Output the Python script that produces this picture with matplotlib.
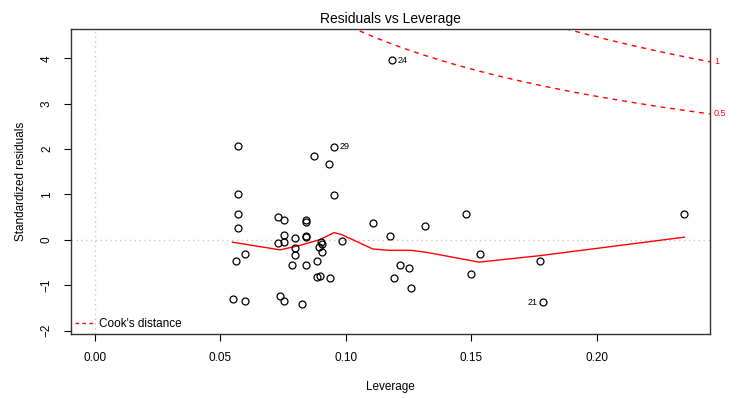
import numpy as np
import matplotlib
matplotlib.use("Agg")
import matplotlib.pyplot as plt

plt.rcParams["font.family"] = ["Liberation Sans", "DejaVu Sans"]

# leverage / standardized residuals
leverage = [0.1184, 0.0569, 0.0953, 0.0871, 0.0933, 0.0569, 0.0953, 0.0569, 0.0729, 0.0753,
            0.0840, 0.0840, 0.1110, 0.1479, 0.1317, 0.2350, 0.0569, 0.0753, 0.0840, 0.0840,
            0.0797, 0.1176, 0.0729, 0.0753, 0.0986, 0.0902, 0.0905, 0.0893, 0.0797, 0.0905,
            0.0598, 0.1533, 0.0797, 0.0560, 0.0886, 0.1774, 0.0786, 0.0840, 0.1216, 0.1252,
            0.0886, 0.0898, 0.0938, 0.1190, 0.1500, 0.1260, 0.0548, 0.0598, 0.0738, 0.0753,
            0.0824, 0.1788]
std_resid = [3.96, 2.07, 2.05, 1.85, 1.68, 1.01, 0.985, 0.58, 0.515, 0.434,
             0.434, 0.40, 0.38, 0.56, 0.316, 0.56, 0.265, 0.11, 0.096, 0.066,
             0.05, 0.08, -0.074, -0.037, -0.022, -0.05, -0.09, -0.154, -0.17, -0.265,
             -0.30, -0.316, -0.34, -0.47, -0.463, -0.463, -0.56, -0.56, -0.56, -0.62,
             -0.81, -0.794, -0.846, -0.83, -0.757, -1.05, -1.30, -1.35, -1.24, -1.35,
             -1.42, -1.37]

# smoother (red line)
smooth_x = [0.0548, 0.0738, 0.0819, 0.0897, 0.0953, 0.0983, 0.1107, 0.1172, 0.1259,
            0.1328, 0.1531, 0.1776, 0.2350]
smooth_y = [-0.051, -0.22, -0.118, 0.007, 0.16, 0.118, -0.20, -0.23, -0.23,
            -0.28, -0.49, -0.346, 0.06]

# labelled observations: (id, index into arrays, side)
labelled = [("24", 0, "right"), ("29", 2, "right"), ("21", 51, "left")]

# Cook's distance contours
cook_levels = [0.5, 1.0]
n_params = 5

XLIM = (-0.0096, 0.2452)
YLIM = (-2.073, 4.645)
RED = "#FF0000"

fig = plt.figure(figsize=(7.4, 3.98), dpi=100)
ax = fig.add_axes([71 / 740, 1 - 334 / 398, 639 / 740, 305 / 398])

ax.axhline(0, color="#C8C8C8", ls=(0, (1, 2.5)), lw=1, zorder=1)
ax.axvline(0, color="#C8C8C8", ls=(0, (1, 2.5)), lw=1, zorder=1)

ax.plot(leverage, std_resid, "o", mfc="none", mec="black", ms=5, mew=0.9, zorder=3)
ax.plot(smooth_x, smooth_y, color=RED, lw=1, zorder=2)

hh = np.linspace(0.002, XLIM[1], 101)
for lev in cook_levels:
    r = np.sqrt(lev * n_params * (1 - hh) / hh)
    ax.plot(hh, r, color=RED, ls=(0, (3.5, 3.5)), lw=1, zorder=2)
    ax.plot(hh, -r, color=RED, ls=(0, (3.5, 3.5)), lw=1, zorder=2)
    yr = np.sqrt(lev * n_params * (1 - XLIM[1]) / XLIM[1])
    ax.text(1.006, yr, f"{lev:g}", transform=ax.get_yaxis_transform(),
            color=RED, fontsize=6.5, va="center", ha="left", clip_on=False)

for lab, i, side in labelled:
    dx = 0.0022 if side == "right" else -0.0022
    ax.text(leverage[i] + dx, std_resid[i], lab, fontsize=6.5,
            ha="left" if side == "right" else "right", va="center")

ax.set_xlim(*XLIM)
ax.set_ylim(*YLIM)
ax.set_xticks([0.0, 0.05, 0.10, 0.15, 0.20])
ax.set_xticklabels(["0.00", "0.05", "0.10", "0.15", "0.20"])
ax.set_yticks([-2, -1, 0, 1, 2, 3, 4])
ax.set_yticklabels(["\u22122", "\u22121", "0", "1", "2", "3", "4"], rotation=90, va="center")
ax.tick_params(direction="out", length=5, width=0.8, labelsize=8.5, pad=8)
for s in ax.spines.values():
    s.set_linewidth(1)
    s.set_color("#333333")

ax.set_xlabel("Leverage", fontsize=8.5, labelpad=12)
ax.set_ylabel("Standardized residuals", fontsize=8.5, labelpad=10)
ax.set_title("Residuals vs Leverage", fontsize=10, pad=4)

ax.legend([plt.Line2D([], [], color=RED, ls=(0, (2.5, 2.5)), lw=1)], ["Cook's distance"],
          loc="lower left", frameon=False, fontsize=8.5, handlelength=1.6,
          handletextpad=0.5, borderaxespad=0.1, borderpad=0.2)

fig.savefig("out.png", dpi=100)
